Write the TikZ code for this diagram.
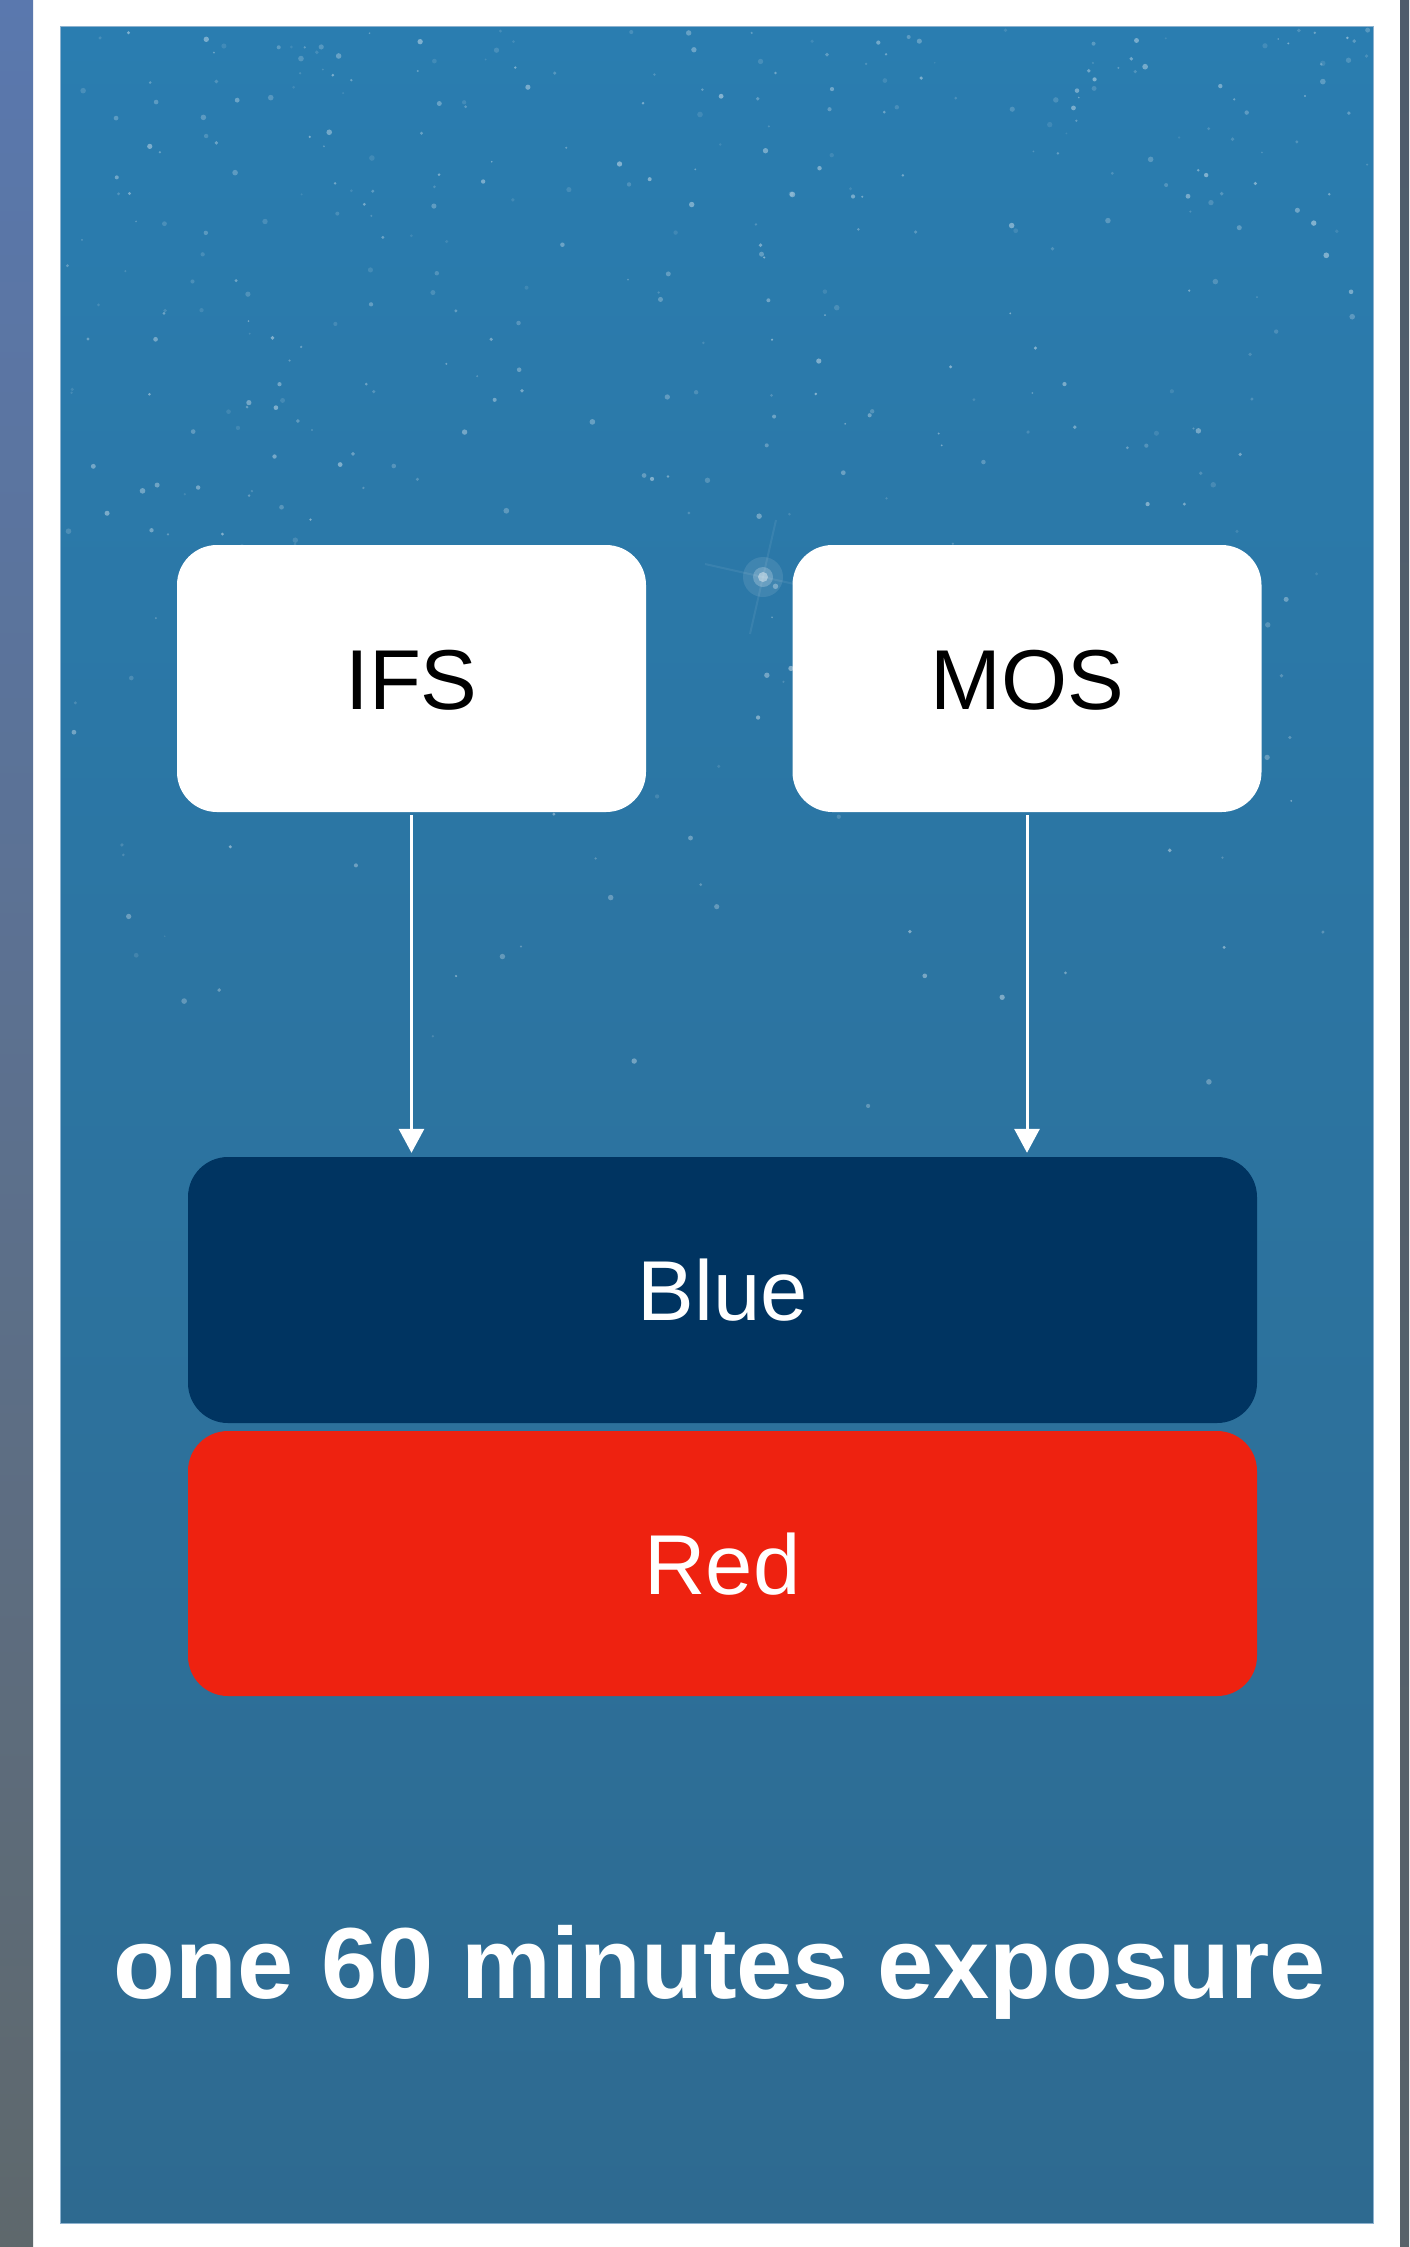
\documentclass[tikz,border=0pt]{standalone}
\usepackage{fontspec}
\setmainfont{Liberation Sans}
\usetikzlibrary{arrows.meta}

\definecolor{skytop}{HTML}{2A7DB0}
\definecolor{skymid}{HTML}{2B7BAA}
\definecolor{skybot}{HTML}{2E6A90}
\definecolor{stripltop}{HTML}{5A78AE}
\definecolor{striplmid}{HTML}{587F90}
\definecolor{striplbot}{HTML}{5E686C}
\definecolor{striprtop}{HTML}{4E5C6C}
\definecolor{striprbot}{HTML}{58626A}
\definecolor{navybox}{HTML}{003461}
\definecolor{redbox}{HTML}{EE2210}
\definecolor{paneledge}{HTML}{8DB2CF}

\tikzset{
  card/.style={rounded corners=40pt, inner sep=0pt, text height=61pt, text depth=0pt,
    font=\fontsize{85}{100}\selectfont},
  whitecard/.style={card, fill=white, text=black, minimum width=469pt, minimum height=267pt},
  band/.style={card, text=white, minimum width=1069pt, minimum height=266pt},
  feed/.style={draw=white, line width=3pt, shorten <=3pt, shorten >=4pt,
    -{Triangle[width=25pt,length=24pt]}},
  caption/.style={text=white, font=\bfseries\fontsize{101}{120}\selectfont,
    inner sep=0pt, text height=74pt, text depth=0pt},
}

\begin{document}
\begin{tikzpicture}[x=1pt,y=-1pt]
  \useasboundingbox (0,0) rectangle (1409,2247);
  \fill[white] (0,0) rectangle (1409,2247);

  % side strips of the backdrop
  \shade[top color=stripltop, middle color=striplmid, bottom color=striplbot]
    (0,0) rectangle (33,2247);
  \shade[top color=striprtop, bottom color=striprbot]
    (1400,0) rectangle (1409,2247);

  % night-sky panel
  \shade[top color=skytop, middle color=skymid, bottom color=skybot]
    (60,26) rectangle (1373,2223);
  \draw[paneledge, line width=1pt] (60,26) rectangle (1373,2223);

  % scattered stars, denser towards the top
  \pgfmathsetseed{4242}
  \foreach \i in {1,...,420}{
    \pgfmathsetmacro\sx{64+1305*rnd}
    \pgfmathsetmacro\sy{30+1250*rnd*rnd}
    \pgfmathsetmacro\so{0.10+0.32*rnd}
    \pgfmathsetmacro\sr{0.9+2.0*rnd}
    \fill[white, opacity=\so] (\sx,\sy) circle[radius=\sr pt];
  }
  % bright star with faint spikes
  \fill[white, opacity=0.10] (763,577) circle[radius=20pt];
  \fill[white, opacity=0.22] (763,577) circle[radius=10pt];
  \fill[white, opacity=0.40] (763,577) circle[radius=5pt];
  \draw[white, opacity=0.07, line width=2pt] (705,564) -- (821,590);
  \draw[white, opacity=0.07, line width=2pt] (776,520) -- (750,634);

  % source boxes
  \node[whitecard] (ifs) at (411.5,678.5) {IFS};
  \node[whitecard] (mos) at (1027,678.5) {MOS};

  % output bands
  \node[band, fill=navybox] (blue) at (722.5,1290) {Blue};
  \node[band, fill=redbox, minimum height=265pt] (red) at (722.5,1563.5) {Red};

  % feeds into the blue band
  \draw[feed] (ifs.south) -- (ifs.south |- blue.north);
  \draw[feed] (mos.south) -- (mos.south |- blue.north);

  % exposure caption
  \node[caption] (expo) at (720,1961.5) {one 60 minutes exposure};
\end{tikzpicture}
\end{document}
